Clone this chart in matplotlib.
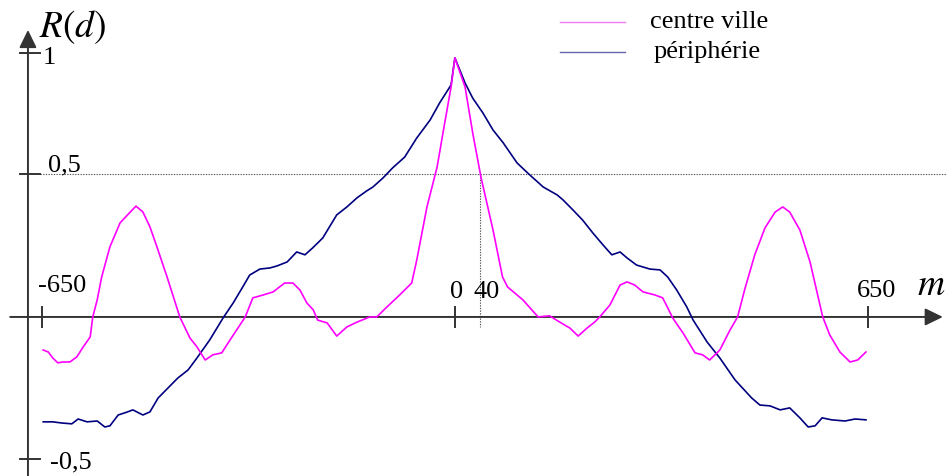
import matplotlib.pyplot as plt

plt.rcParams['font.family'] = ['Liberation Serif', 'DejaVu Serif']
plt.rcParams['mathtext.fontset'] = 'stix'

# lag d (m) and correlation R(d), city centre
centre_d = [-648, -640, -633, -625, -617, -606, -595, -585, -574, -570, -563, -556,
            -543, -527, -511, -502, -491, -480, -469, -453, -433, -417, -406, -393,
            -381, -367, -354, -330, -318, -302, -286, -268, -255, -244, -233, -223,
            -216, -201, -186, -170, -154, -134, -123, -107, -87, -68, -60, -44, -28,
            -16, -6, 0, 16, 28, 41, 60, 75, 83, 107, 131, 149, 165, 181, 194, 208,
            220, 228, 244, 260, 271, 283, 296, 315, 327, 335, 343, 359, 378, 390,
            401, 417, 433, 445, 456, 472, 488, 504, 516, 527, 543, 559, 571, 579,
            590, 606, 622, 634, 647]
centre_r = [-0.116, -0.123, -0.144, -0.161, -0.158, -0.158, -0.140, -0.105, -0.070,
            0.0, 0.060, 0.140, 0.246, 0.330, 0.368, 0.389, 0.368, 0.316, 0.246,
            0.140, 0.0, -0.074, -0.105, -0.151, -0.133, -0.126, -0.081, 0.0, 0.067,
            0.077, 0.088, 0.119, 0.119, 0.095, 0.049, 0.025, -0.011, -0.021, -0.067,
            -0.035, -0.018, 0.0, 0.0, 0.035, 0.077, 0.119, 0.200, 0.386, 0.526,
            0.681, 0.807, 0.909, 0.807, 0.646, 0.491, 0.305, 0.140, 0.105, 0.060,
            0.0, 0.004, -0.018, -0.039, -0.067, -0.039, -0.018, 0.0, 0.042, 0.112,
            0.123, 0.112, 0.088, 0.077, 0.067, 0.032, -0.004, -0.056, -0.126,
            -0.133, -0.151, -0.116, -0.046, 0.0, 0.095, 0.218, 0.312, 0.368, 0.386,
            0.368, 0.305, 0.193, 0.077, 0.0, -0.063, -0.123, -0.158, -0.151, -0.123]

# lag d (m) and correlation R(d), outskirts
periph_d = [-648, -633, -619, -603, -593, -579, -563, -551, -543, -530, -515, -507,
            -491, -480, -467, -436, -420, -406, -386, -365, -349, -334, -323, -307,
            -291, -280, -264, -249, -236, -224, -208, -186, -170, -154, -139, -129,
            -113, -98, -79, -60, -39, -24, -6, 0, 16, 28, 44, 60, 76, 98, 118, 139,
            161, 170, 186, 201, 217, 233, 247, 260, 271, 286, 307, 323, 335, 349,
            365, 375, 397, 417, 441, 467, 480, 496, 512, 527, 543, 556, 567, 578,
            593, 614, 630, 647]
periph_r = [-0.368, -0.368, -0.372, -0.375, -0.358, -0.368, -0.365, -0.386, -0.382,
            -0.344, -0.333, -0.326, -0.344, -0.333, -0.284, -0.214, -0.186, -0.144,
            -0.081, -0.004, 0.049, 0.105, 0.147, 0.168, 0.172, 0.179, 0.193, 0.228,
            0.218, 0.242, 0.277, 0.358, 0.386, 0.418, 0.442, 0.456, 0.488, 0.523,
            0.561, 0.628, 0.691, 0.751, 0.814, 0.909, 0.821, 0.768, 0.716, 0.656,
            0.611, 0.540, 0.498, 0.456, 0.428, 0.411, 0.375, 0.340, 0.295, 0.253,
            0.218, 0.228, 0.207, 0.182, 0.168, 0.165, 0.140, 0.095, 0.035, -0.011,
            -0.088, -0.144, -0.221, -0.284, -0.309, -0.312, -0.326, -0.319, -0.354,
            -0.386, -0.382, -0.354, -0.361, -0.365, -0.358, -0.361]

x_ticks = [-650, 0, 650]
x_tick_labels = ['-650', '0', '650']
y_ticks = [0.926, 0.5, -0.5]
y_tick_labels = ['1', '0,5', '-0,5']
d_half = 40          # lag where the city-centre curve falls to 0,5

PINK = '#ff00ff'
NAVY = '#000080'
AXIS = '#333333'

fig = plt.figure(figsize=(9.46, 4.76), dpi=100)
ax = fig.add_axes([0, 0, 1, 1])
ax.set_xlim(-716, 773)
ax.set_ylim(-0.558, 1.112)
ax.axis('off')

ax.plot(periph_d, periph_r, color=NAVY, lw=1.2, zorder=3)
ax.plot(centre_d, centre_r, color=PINK, lw=1.2, zorder=4)

# hand-drawn style axes with arrow heads
arrow = dict(arrowstyle='-|>,head_length=0.45,head_width=0.22', mutation_scale=24,
             color=AXIS, lw=1.4, shrinkA=0, shrinkB=0)
ax.annotate('', xy=(768, 0), xytext=(-700, 0), arrowprops=arrow, zorder=2)
ax.annotate('', xy=(-672, 1.007), xytext=(-672, -0.6), arrowprops=arrow, zorder=2)

for t in x_ticks:
    ax.plot([t, t], [-0.035, 0.035], color=AXIS, lw=1.4, zorder=2)
for t in y_ticks:
    ax.plot([-685, -653], [t, t], color=AXIS, lw=1.4, zorder=2)

# reference lines at R = 0,5 and d = 40
ax.plot([-653, 773], [0.5, 0.5], color='#555555', lw=0.8, ls=(0, (1.2, 1.2)), zorder=1)
ax.plot([d_half, d_half], [0.5, -0.035], color='#555555', lw=0.8, ls=(0, (1.2, 1.2)), zorder=1)

fs = 19
ax.text(-649, 0.909, y_tick_labels[0], fontsize=fs, ha='left', va='center')
ax.text(-640, 0.509, y_tick_labels[1], fontsize=fs, ha='left', va='baseline')
ax.text(-637, -0.530, y_tick_labels[2], fontsize=fs, ha='left', va='baseline')

ax.text(-656, 0.088, x_tick_labels[0], fontsize=fs, ha='left', va='baseline')
ax.text(2, 0.067, x_tick_labels[1], fontsize=fs, ha='center', va='baseline')
ax.text(50, 0.067, str(d_half), fontsize=fs, ha='center', va='baseline')
ax.text(664, 0.070, x_tick_labels[2], fontsize=fs, ha='center', va='baseline')

ax.text(727, 0.077, r'$m$', fontsize=27, ha='left', va='baseline')
ax.text(-655, 0.982, r'$R(d)$', fontsize=27, ha='left', va='baseline')

# legend
ax.plot([165, 268], [1.035, 1.035], color='#f27af2', lw=1.0)
ax.plot([165, 268], [0.930, 0.930], color='#6464aa', lw=1.0)
ax.text(307, 1.014, 'centre ville', fontsize=fs, ha='left', va='baseline')
ax.text(312, 0.909, 'périphérie', fontsize=fs, ha='left', va='baseline')

fig.savefig('out.png', dpi=100)
